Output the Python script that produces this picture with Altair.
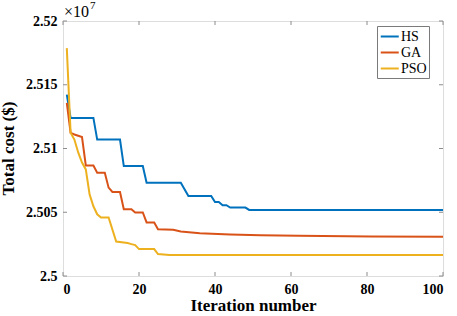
import altair as alt
import pandas as pd

# Cost values in units of 1e7 $
hs_iter = [1, 2, 8, 9, 15, 16, 21, 22, 31, 33, 39, 40, 41, 42, 43, 44, 48, 49, 100]
hs_cost = [2.51422, 2.51240, 2.51240, 2.51070, 2.51070, 2.50862, 2.50862, 2.50732, 2.50732,
           2.50627, 2.50627, 2.50580, 2.50580, 2.50555, 2.50555, 2.50537, 2.50537, 2.50518, 2.50518]
ga_iter = [1, 2, 3, 4, 5, 6, 8, 9, 11, 12, 13, 15, 16, 18, 19, 21, 22, 24, 25, 29, 31, 36, 44, 52, 62, 81, 100]
ga_cost = [2.51357, 2.51123, 2.51110, 2.51100, 2.51090, 2.50867, 2.50867, 2.50810, 2.50810, 2.50693,
           2.50659, 2.50659, 2.50523, 2.50523, 2.50498, 2.50498, 2.50420, 2.50420, 2.50367, 2.50362,
           2.50349, 2.50336, 2.50326, 2.50320, 2.50315, 2.50310, 2.50307]
pso_iter = [1, 2, 3, 4, 5, 6, 7, 8, 9, 10, 12, 14, 17, 18, 19, 20, 24, 25, 28, 100]
pso_cost = [2.51787, 2.51123, 2.51070, 2.50969, 2.50890, 2.50836, 2.50640, 2.50547, 2.50484, 2.50459,
            2.50459, 2.50270, 2.50258, 2.50250, 2.50242, 2.50211, 2.50211, 2.50172, 2.50165, 2.50164]

series_names = ["HS", "GA", "PSO"]
series_colors = ["#0072BD", "#D95319", "#EDB120"]
x_ticks = [0, 20, 40, 60, 80, 100]
y_ticks = [2.5, 2.505, 2.51, 2.515, 2.52]

rows = []
for name, its, costs in [("HS", hs_iter, hs_cost), ("GA", ga_iter, ga_cost), ("PSO", pso_iter, pso_cost)]:
    for i, c in zip(its, costs):
        rows.append({"iter": i, "cost": c, "algo": name})
df = pd.DataFrame(rows)

FONT = "Liberation Serif"
AX = "#8c8c8c"
W, H = 380, 255

xscale = alt.Scale(domain=[0, 100], nice=False)
yscale = alt.Scale(domain=[2.5, 2.52], nice=False, zero=False)

x_axis = alt.Axis(values=x_ticks, format="d", title="Iteration number",
                  ticks=False, domain=False, grid=False, labelPadding=6,
                  labelFontSize=14, labelFontWeight="bold", labelColor="black",
                  titleFontSize=17, titleFontWeight="bold", titleColor="black",
                  titlePadding=1, labelFont=FONT, titleFont=FONT)
y_axis = alt.Axis(values=y_ticks, format="~g", title="Total cost ($)",
                  ticks=False, domain=False, grid=False, labelPadding=6,
                  labelFontSize=14, labelFontWeight="bold", labelColor="black",
                  titleFontSize=17, titleFontWeight="bold", titleColor="black",
                  titleX=-46, titleY=127, labelFont=FONT, titleFont=FONT)

lines = alt.Chart(df).mark_line(strokeWidth=2).encode(
    x=alt.X("iter:Q", scale=xscale, axis=x_axis),
    y=alt.Y("cost:Q", scale=yscale, axis=y_axis),
    color=alt.Color("algo:N", scale=alt.Scale(domain=series_names, range=series_colors),
                    sort=series_names,
                    legend=alt.Legend(title=None, orient="none", legendX=314, legendY=5,
                                      symbolType="M-0.9,0H1.5", symbolSize=225, symbolStrokeWidth=2,
                                      labelFont=FONT, labelFontSize=14, labelColor="black",
                                      labelOffset=5, rowPadding=0, padding=2,
                                      strokeColor="#7a7a7a", fillColor="white")),
    order=alt.Order("iter:Q"),
)

xt = pd.DataFrame({"iter": x_ticks})
yt = pd.DataFrame({"cost": y_ticks})

tick_bottom = alt.Chart(xt).mark_rule(color=AX, strokeWidth=1).encode(
    x=alt.X("iter:Q", scale=xscale, axis=x_axis), y=alt.value(H), y2=alt.value(H - 4))
tick_top = alt.Chart(xt).mark_rule(color=AX, strokeWidth=1).encode(
    x=alt.X("iter:Q", scale=xscale, axis=x_axis), y=alt.value(0), y2=alt.value(4))
tick_left = alt.Chart(yt).mark_rule(color=AX, strokeWidth=1).encode(
    y=alt.Y("cost:Q", scale=yscale, axis=y_axis), x=alt.value(0), x2=alt.value(4))
tick_right = alt.Chart(yt).mark_rule(color=AX, strokeWidth=1).encode(
    y=alt.Y("cost:Q", scale=yscale, axis=y_axis), x=alt.value(W), x2=alt.value(W - 4))

exp_base = alt.Chart(pd.DataFrame({"t": ["×10"]})).mark_text(
    font=FONT, fontSize=16, align="left", baseline="alphabetic", color="black").encode(
    text="t:N", x=alt.value(1), y=alt.value(-4))
exp_pow = alt.Chart(pd.DataFrame({"t": ["7"]})).mark_text(
    font=FONT, fontSize=11, align="left", baseline="alphabetic", color="black").encode(
    text="t:N", x=alt.value(27), y=alt.value(-12))

chart = alt.layer(lines, tick_bottom, tick_top, tick_left, tick_right, exp_base, exp_pow).properties(
    width=W, height=H,
    autosize=alt.AutoSizeParams(type="none"),
    padding={"left": 63, "top": 21, "right": 14, "bottom": 40},
).configure_view(stroke=AX, strokeWidth=1).configure(
    background="white"
).configure_axis(labelFont=FONT, titleFont=FONT).configure_legend(labelFont=FONT).configure_text(font=FONT)

chart.save("out.html", embed_options={"renderer": "svg", "actions": False})
